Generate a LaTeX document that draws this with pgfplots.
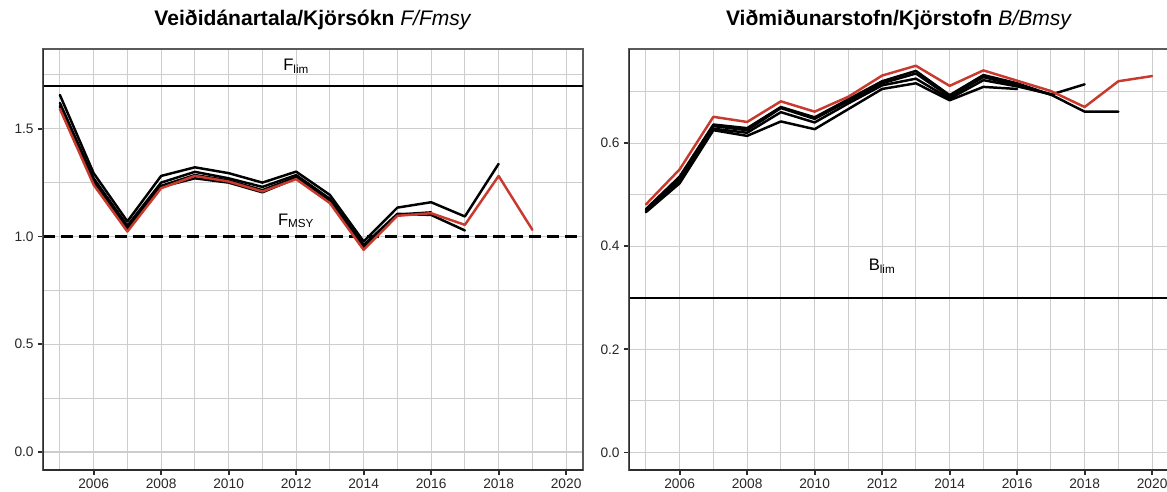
\documentclass[border=0pt]{standalone}
\usepackage{fontspec}
\setmainfont{Liberation Sans}
\usepackage{pgfplots}
\pgfplotsset{compat=1.18}
\definecolor{redl}{RGB}{200,58,46}
\definecolor{gridc}{RGB}{205,205,205}
\definecolor{boxc}{RGB}{90,90,90}
\definecolor{axc}{RGB}{45,45,45}
\definecolor{txtc}{RGB}{40,40,40}

\pgfplotsset{
 panel/.style={
  scale only axis, width=405pt, height=315.75pt,
  anchor=north west,
  xmin=2004.5, xmax=2020.5,
  xtick={2006,2008,...,2020},
  minor xtick={2005,2007,...,2019},
  xtick pos=bottom, ytick pos=left,
  grid=both,
  major grid style={gridc, line width=0.85pt},
  minor grid style={gridc, line width=0.85pt},
  axis line style={boxc, line width=1.1pt},
  tick align=outside,
  major tick length=3.5pt, minor tick length=0pt,
  tick style={axc, line width=1.4pt},
  /pgf/number format/assume math mode=true,
  xticklabel style={font=\fontsize{10.3}{12}\selectfont, text=txtc, /pgf/number format/1000 sep={}},
  yticklabel style={font=\fontsize{10.3}{12}\selectfont, text=txtc, /pgf/number format/fixed, /pgf/number format/fixed zerofill, /pgf/number format/precision=1},
  title style={at={(0.5,1)}, anchor=base, yshift=11.5pt, font=\fontsize{15.8}{18}\selectfont},
  every axis plot/.append style={line join=round, line cap=round},
  blk/.style={black, line width=1.85pt},
  red/.style={redl, line width=1.85pt},
 }
}

\begin{document}
\begin{tikzpicture}
% ---------- Left panel ----------
\begin{axis}[panel, at={(32.25pt,-36.75pt)},
  ymin=-0.0835, ymax=1.870,
  ytick={0,0.5,1,1.5}, minor ytick={0.25,0.75,1.25,1.75},
  title={\textbf{Veiðidánartala/Kjörsókn} \textit{F/Fmsy}}]
\addplot[black, line width=1.6pt, line cap=butt] coordinates {(2004.5,1.7) (2020.5,1.7)};
\addplot[black, line width=1.6pt, line cap=butt, dash pattern=on 9pt off 4.5pt] coordinates {(2004.5,1.0) (2020.5,1.0)};
% retrospective runs
\addplot[blk] coordinates {(2005,1.600) (2006,1.250) (2007,1.030) (2008,1.230) (2009,1.270) (2010,1.250) (2011,1.205) (2012,1.270) (2013,1.160) (2014,0.950) (2015,1.100)};
\addplot[blk] coordinates {(2005,1.605) (2006,1.260) (2007,1.040) (2008,1.235) (2009,1.285) (2010,1.260) (2011,1.215) (2012,1.275) (2013,1.168) (2014,0.955) (2015,1.102) (2016,1.112)};
\addplot[blk] coordinates {(2005,1.620) (2006,1.270) (2007,1.050) (2008,1.250) (2009,1.300) (2010,1.270) (2011,1.230) (2012,1.285) (2013,1.175) (2014,0.960) (2015,1.105) (2016,1.100) (2017,1.028)};
\addplot[blk] coordinates {(2005,1.657) (2006,1.294) (2007,1.070) (2008,1.281) (2009,1.321) (2010,1.294) (2011,1.250) (2012,1.301) (2013,1.193) (2014,0.977) (2015,1.134) (2016,1.159) (2017,1.093) (2018,1.337)};
\addplot[red] coordinates {(2005,1.592) (2006,1.240) (2007,1.023) (2008,1.224) (2009,1.281) (2010,1.255) (2011,1.209) (2012,1.266) (2013,1.155) (2014,0.938) (2015,1.096) (2016,1.108) (2017,1.054) (2018,1.281) (2019,1.031)};
\node[font=\fontsize{12.5}{14}\selectfont] at (axis cs:2012,1.79) {F\textsubscript{lim}};
\node[font=\fontsize{12.5}{14}\selectfont] at (axis cs:2012,1.073) {F\textsubscript{MSY}};
\draw[axc, line width=1.4pt] (rel axis cs:0,1) -- (rel axis cs:0,0) -- (rel axis cs:1,0);
\end{axis}
% ---------- Right panel ----------
\begin{axis}[panel, at={(471.75pt,-36.75pt)},
  ymin=-0.034, ymax=0.7825,
  ytick={0,0.2,0.4,0.6}, minor ytick={0.1,0.3,0.5,0.7},
  title={\textbf{Viðmiðunarstofn/Kjörstofn} \textit{B/Bmsy}}]
\addplot[black, line width=1.6pt, line cap=butt] coordinates {(2004.5,0.3) (2020.5,0.3)};
\addplot[blk] coordinates {(2005,0.466) (2006,0.522) (2007,0.625) (2008,0.614) (2009,0.642) (2010,0.627) (2011,0.666) (2012,0.705) (2013,0.716) (2014,0.683) (2015,0.709) (2016,0.705)};
\addplot[blk] coordinates {(2005,0.468) (2006,0.525) (2007,0.628) (2008,0.620) (2009,0.660) (2010,0.640) (2011,0.677) (2012,0.712) (2013,0.725) (2014,0.686) (2015,0.722) (2016,0.710) (2017,0.695)};
\addplot[blk] coordinates {(2005,0.472) (2006,0.535) (2007,0.636) (2008,0.629) (2009,0.670) (2010,0.650) (2011,0.685) (2012,0.720) (2013,0.740) (2014,0.693) (2015,0.732) (2016,0.716) (2017,0.694) (2018,0.714)};
\addplot[blk] coordinates {(2005,0.470) (2006,0.530) (2007,0.633) (2008,0.625) (2009,0.668) (2010,0.647) (2011,0.682) (2012,0.716) (2013,0.735) (2014,0.690) (2015,0.728) (2016,0.712) (2017,0.694) (2018,0.661) (2019,0.661)};
\addplot[red] coordinates {(2005,0.481) (2006,0.549) (2007,0.651) (2008,0.641) (2009,0.681) (2010,0.661) (2011,0.690) (2012,0.731) (2013,0.750) (2014,0.711) (2015,0.741) (2016,0.721) (2017,0.701) (2018,0.670) (2019,0.720) (2020,0.730)};
\node[font=\fontsize{12.5}{14}\selectfont] at (axis cs:2012,0.3616) {B\textsubscript{lim}};
\draw[axc, line width=1.4pt] (rel axis cs:0,1) -- (rel axis cs:0,0) -- (rel axis cs:1,0);
\end{axis}
\pgfresetboundingbox
\useasboundingbox (0,0) rectangle (875.25pt,-369pt);
\end{tikzpicture}
\end{document}
